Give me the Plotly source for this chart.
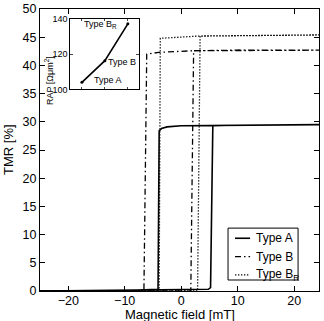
import plotly.graph_objects as go

# ---- data ----
# Type A hysteresis loop (ascending branch then descending branch)
field_a = [-25, -10, -4, -2, 0, 3, 4.8, 5.2, 5.6, 10, 24.4,
           24.4, 10, 0, -2.5, -3.5, -3.9, -4.1, -10, -25]
tmr_a = [0, 0.1, 0.2, 0.25, 0.15, 0.2, 0.3, 0.6, 29.3, 29.4, 29.5,
         29.5, 29.4, 29.3, 29.1, 28.8, 28.4, 0.3, 0.1, 0]

# Type B
field_b = [-25, 0, 1.7, 2.2, 10, 24.4,
           24.4, 10, 2, -4, -6.1, -6.6, -15, -25]
tmr_b = [0, 0, 0, 42.6, 42.7, 42.7,
         42.7, 42.7, 42.6, 42.3, 42.0, 0, 0, 0]

# Type B_R
field_br = [-25, 0, 2.9, 3.35, 10, 24.4,
            24.4, 10, 3, -3.7, -3.9, -15, -25]
tmr_br = [0, 0, 0, 45.2, 45.3, 45.4,
          45.4, 45.3, 45.2, 44.8, 0, 0, 0]

# Inset: RAP per sample type
inset_x = [1, 2, 3]
inset_rap = [104, 116.3, 137.2]
inset_labels = ["Type A", "Type B", "Type B<sub>R</sub>"]
inset_label_x = [2.13, 2.76, 1.83]
inset_label_y = [105.3, 115.5, 136.6]

legend_names = ["Type A", "Type B", "Type B<sub>R</sub>"]

FONT = "Liberation Sans, Arial, sans-serif"
DASHES = ["solid", "6px,3px,1.5px,3px", "1.3px,1.7px"]
WIDTHS = [1.6, 1.3, 1.3]

fig = go.Figure()
for fx, ty, name, dash, w in zip([field_a, field_b, field_br], [tmr_a, tmr_b, tmr_br],
                                 legend_names, DASHES, WIDTHS):
    fig.add_trace(go.Scatter(x=fx, y=ty, mode="lines", name=name, showlegend=False,
                             line=dict(color="black", width=w, dash=dash)))

# inset
fig.add_trace(go.Scatter(x=inset_x, y=inset_rap, mode="lines+markers", showlegend=False,
                         line=dict(color="black", width=1.6),
                         marker=dict(color="black", size=3),
                         xaxis="x2", yaxis="y2"))

ax_common = dict(showline=True, linecolor="black", linewidth=1, mirror="ticks",
                 ticks="inside", tickcolor="black", ticklen=5, showgrid=False,
                 zeroline=False, automargin=False)

fig.update_layout(
    width=324, height=321,
    margin=dict(l=40, r=5, t=9, b=30),
    paper_bgcolor="white", plot_bgcolor="white",
    font=dict(family=FONT, color="black", size=13),
    showlegend=False,
    xaxis=dict(range=[-25, 24.4], tickvals=[-20, -10, 0, 10, 20],
               ticktext=["\u221220", "\u221210", "0", "10", "20"],
               tickfont=dict(size=12.5), ticklabelstandoff=-2, **ax_common),
    yaxis=dict(range=[0, 50], tickvals=list(range(0, 51, 5)),
               tickfont=dict(size=12.5), **ax_common),
    xaxis2=dict(domain=[0.109, 0.356], anchor="y2", range=[0.5, 3.5],
                tickvals=[1, 2, 3], showticklabels=False,
                showline=True, linecolor="black", linewidth=1, mirror="ticks",
                ticks="inside", ticklen=2, showgrid=False, zeroline=False),
    yaxis2=dict(domain=[0.715, 0.965], anchor="x2", range=[100, 140],
                tickvals=[100, 120, 140], tickfont=dict(size=9),
                showline=True, linecolor="black", linewidth=1, mirror="ticks",
                ticks="inside", ticklen=3, showgrid=False, zeroline=False),
)

# axis titles as annotations
fig.add_annotation(x=0.5, y=0, xref="paper", yref="paper", yanchor="middle",
                   yshift=-23, text="Magnetic field [mT]", showarrow=False,
                   font=dict(size=13, family=FONT, color="black"))
fig.add_annotation(x=0, y=0.5, xref="paper", yref="paper", xanchor="center",
                   xshift=-32, text="TMR [%]", textangle=-90, showarrow=False,
                   font=dict(size=13, family=FONT, color="black"))
fig.add_annotation(x=0.109, y=0.84, xref="paper", yref="paper", xanchor="center",
                   xshift=-22, text="RAP [\u03a9\u03bcm<sup>2</sup>]", textangle=-90,
                   showarrow=False, font=dict(size=9, family=FONT, color="black"))

# inset labels
for lx, ly, txt in zip(inset_label_x, inset_label_y, inset_labels):
    fig.add_annotation(x=lx, y=ly, xref="x2", yref="y2", text=txt, showarrow=False,
                       font=dict(size=9, family=FONT, color="black"))

# legend box (drawn in paper coordinates)
fig.add_shape(type="rect", xref="paper", yref="paper", x0=0.674, x1=0.925,
              y0=0.039, y1=0.223, line=dict(color="black", width=1),
              fillcolor="white", layer="above")
legend_rows = [0.187, 0.122, 0.057]
for ry, name, dash, w in zip(legend_rows, legend_names, DASHES, WIDTHS):
    fig.add_shape(type="line", xref="paper", yref="paper", x0=0.699, x1=0.753,
                  y0=ry, y1=ry, line=dict(color="black", width=w, dash=dash),
                  layer="above")
    fig.add_annotation(x=0.767, y=ry, xref="paper", yref="paper", xanchor="left",
                       yanchor="middle", text=name, showarrow=False,
                       font=dict(size=12, family=FONT, color="black"))

fig.write_html("out.html", config={"displayModeBar": False},
               post_script="document.body.style.margin='0';")
